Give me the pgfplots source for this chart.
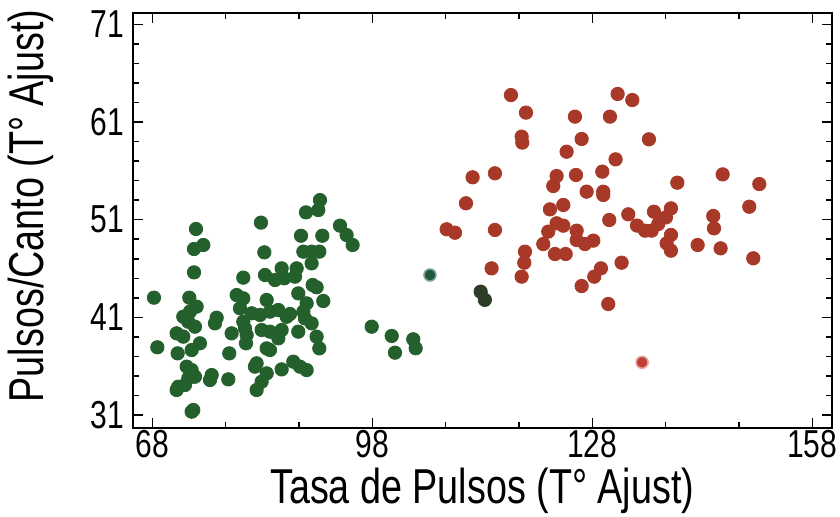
\documentclass[border=0pt]{standalone}
\usepackage{fontspec}
\setmainfont{Liberation Sans}[FakeStretch=0.77]
\usepackage{pgfplots}
\pgfplotsset{compat=1.18}
\definecolor{gr}{RGB}{36,96,44}
\definecolor{rd}{RGB}{168,56,40}
\definecolor{dk}{RGB}{44,62,40}
\definecolor{tl}{RGB}{30,88,62}
\definecolor{rl}{RGB}{192,62,52}
\begin{document}
\begin{tikzpicture}
\useasboundingbox (-66.35pt,-44.35pt) rectangle (353.65pt,214.15pt);
\begin{axis}[
  at={(0,0)}, anchor=south west,
  scale only axis, width=349.5pt, height=207.8pt,
  xmin=65.33, xmax=160.65, ymin=29.65, ymax=72.19,
  xtick={68,98,128,158}, ytick={31,41,51,61,71},
  minor x tick num=2, minor y tick num=4,
  major tick length=5pt, minor tick length=3pt,
  axis line style={line width=1pt},
  every tick/.style={black, line width=0.75pt},
  /pgf/number format/assume math mode=true,
  ticklabel style={font=\fontsize{19.5}{20}\selectfont},
  xticklabel style={inner sep=1pt},
  yticklabel style={inner sep=4pt},
  label style={font=\fontsize{24.5}{26}\selectfont, inner sep=0pt},
  xlabel={Tasa de Pulsos (T° Ajust)},
  ylabel={Pulsos/Canto (T° Ajust)},
  xlabel style={at={(axis description cs:0.5,-0.18)}, anchor=base},
  ylabel style={at={(axis description cs:-0.127,0.535)}, anchor=base, rotate=0},
  clip=false,
]
\addplot[only marks, mark=*, mark size=3.35pt, mark options={draw=gr, fill=gr}] table {
90.87 53.01
90.64 51.99
88.96 51.75
82.82 50.70
73.96 50.05
93.60 50.39
94.50 49.43
95.32 48.41
74.96 48.41
73.69 48.00
88.28 49.36
91.19 49.36
83.28 47.66
88.60 47.73
89.73 47.73
90.78 47.73
89.73 46.53
85.64 46.02
87.69 46.02
73.69 45.61
80.41 45.07
83.37 45.34
84.73 44.83
86.00 45.00
87.46 45.17
89.87 44.32
90.41 44.08
68.23 43.02
79.51 43.29
80.41 42.95
73.05 43.02
87.91 43.46
91.32 42.68
83.60 42.78
89.05 42.44
74.05 42.10
73.14 41.59
79.96 41.93
81.55 41.42
82.69 41.25
84.05 41.59
85.19 41.76
86.32 41.07
86.78 41.35
72.23 41.07
72.91 40.56
76.78 40.97
76.55 40.39
88.60 41.59
88.82 40.90
89.73 40.39
80.41 40.56
80.64 39.88
73.82 40.05
82.91 39.71
84.05 39.54
85.64 39.71
87.91 39.54
71.32 39.37
72.23 39.03
78.82 39.37
80.87 39.20
80.78 38.35
85.19 38.86
90.41 39.03
90.78 37.83
68.69 37.94
74.50 38.35
73.37 37.66
83.60 37.83
84.05 37.66
71.46 37.32
78.50 37.32
82.23 36.30
82.00 35.96
87.23 36.47
88.14 35.96
89.05 35.61
72.69 35.96
73.37 35.61
73.82 34.93
72.91 34.76
85.64 35.68
76.10 35.10
75.87 34.59
78.37 34.66
83.60 35.27
82.91 34.42
82.23 33.57
71.55 33.91
71.32 33.57
72.46 34.08
73.59 31.52
73.37 31.35
97.92 40.05
100.65 39.10
101.10 37.39
103.59 38.76
103.92 37.84
};
\addplot[only marks, mark=*, mark size=3.35pt, mark options={draw=rd, fill=rd}] table {
116.91 63.76
118.96 61.96
118.37 59.50
118.46 58.89
125.64 61.55
130.41 61.55
131.46 63.87
133.46 63.25
126.55 59.26
124.50 57.96
131.18 57.18
111.68 55.34
114.73 55.75
123.14 55.47
122.68 54.45
125.78 55.58
129.37 55.92
127.23 53.87
129.50 53.87
129.50 53.53
110.78 52.68
122.23 52.06
124.05 52.51
130.32 50.97
132.91 51.55
134.10 50.40
108.14 50.02
109.28 49.67
114.73 49.95
123.14 50.63
124.05 50.39
122.00 49.78
125.87 49.88
125.87 48.92
127.00 48.51
128.14 48.86
121.32 48.51
118.82 47.73
118.73 46.60
122.91 47.49
124.37 47.49
132.00 46.60
114.27 46.02
118.37 45.17
129.18 46.02
128.27 45.17
126.55 44.21
130.18 42.37
135.73 59.23
139.60 54.79
145.78 55.64
150.78 54.65
149.41 52.33
136.41 51.82
138.73 52.16
135.19 49.88
136.10 49.88
137.00 50.56
138.05 51.24
144.50 51.38
144.60 50.12
138.73 49.44
138.14 48.58
138.73 47.83
142.37 48.41
145.50 48.07
149.96 47.05
};
\addplot[only marks, mark=*, mark size=3.35pt, mark options={draw=dk, fill=dk}] table {
112.78 43.63
113.35 42.80
};
\addplot[only marks, mark=*, mark size=3.0pt, mark options={draw=tl!55!white, fill=tl, line width=0.8pt}] table {
105.87 45.34
};
\addplot[only marks, mark=*, mark size=3.0pt, mark options={draw=rl!45!white, fill=rl, line width=0.8pt}] table {
134.80 36.40
};
\end{axis}
\end{tikzpicture}
\end{document}
